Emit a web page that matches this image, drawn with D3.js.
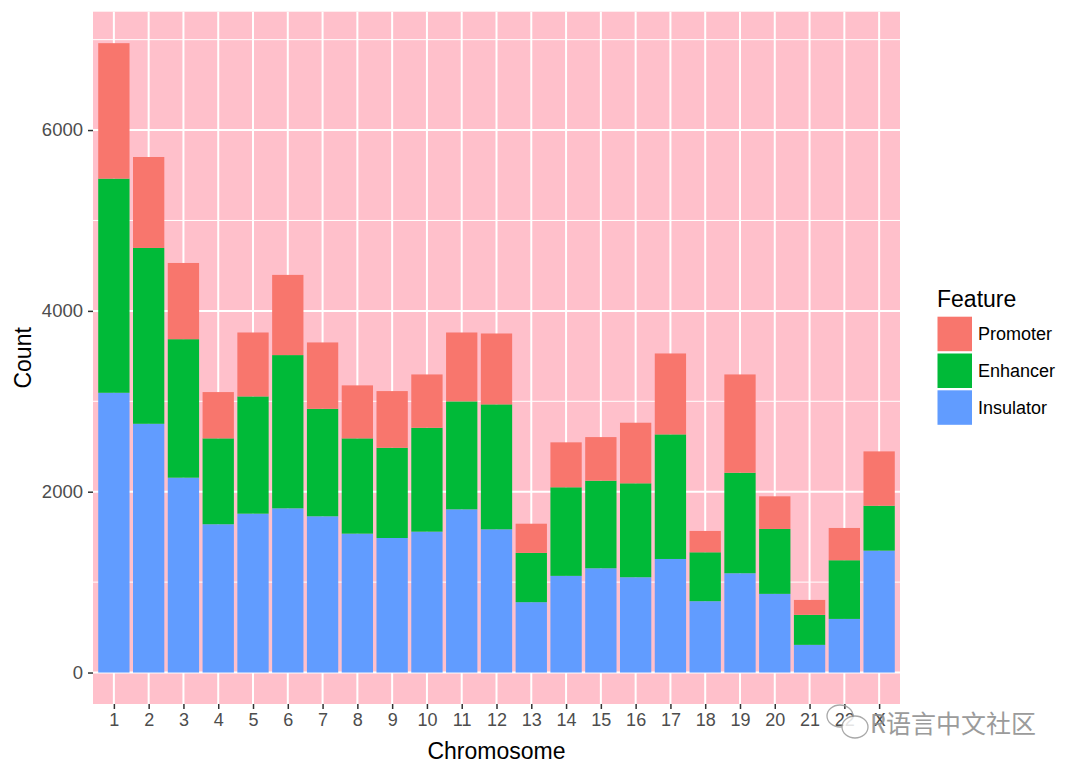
<!DOCTYPE html>
<html>
<head>
<meta charset="utf-8">
<script src="https://cdn.jsdelivr.net/npm/d3@7"></script>
<style>
  html, body { margin: 0; padding: 0; background: #fff; }
  svg { display: block; font-family: "Liberation Sans", Arial, sans-serif; }
</style>
</head>
<body>
<svg id="chart" width="1080" height="771"></svg>
<script>
const chromosomes = ["1","2","3","4","5","6","7","8","9","10","11","12","13","14","15","16","17","18","19","20","21","22","X"];
const insulator = [3094,2751,2155,1640,1757,1816,1728,1536,1488,1558,1805,1584,778,1069,1153,1054,1256,789,1098,870,306,593,1348];
const enhancer  = [2369,1945,1532,950,1297,1695,1189,1054,998,1149,1194,1382,545,980,969,1039,1378,541,1112,718,332,649,497];
const promoter  = [1498,1006,843,512,707,887,734,586,627,590,762,784,323,497,482,670,895,236,1087,361,165,357,601];
const features = ["Promoter","Enhancer","Insulator"];
const featureColors = ["#F8766D","#00BA38","#619CFF"];
const yTicks = [0,2000,4000,6000];
const yMinorTicks = [1000,3000,5000,7000];

const rows = chromosomes.map((c, i) => ({
  chrom: c, Insulator: insulator[i], Enhancer: enhancer[i], Promoter: promoter[i]
}));
const stackKeys = ["Insulator","Enhancer","Promoter"];
const stacked = d3.stack().keys(stackKeys)(rows);
const color = d3.scaleOrdinal().domain(features).range(featureColors);

const svg = d3.select("#chart");
const panel = { left: 93, top: 11.7, right: 900, bottom: 704 };

const maxTotal = d3.max(rows, d => d.Insulator + d.Enhancer + d.Promoter);
const pad = maxTotal * 0.05;
const y = d3.scaleLinear().domain([-pad, maxTotal + pad]).range([panel.bottom, panel.top]);

const n = chromosomes.length;
const step = (panel.right - panel.left) / (n - 1 + 1.2);
const x = d3.scalePoint().domain(chromosomes)
  .range([panel.left + 0.6 * step, panel.right - 0.6 * step]);
const barW = step * 0.9;

svg.append("rect")
  .attr("x", panel.left).attr("y", panel.top)
  .attr("width", panel.right - panel.left).attr("height", panel.bottom - panel.top)
  .attr("fill", "#FFC0CB");

const grid = svg.append("g");
grid.selectAll(".minor").data(yMinorTicks.filter(v => y(v) >= panel.top)).join("line")
  .attr("x1", panel.left).attr("x2", panel.right)
  .attr("y1", d => y(d)).attr("y2", d => y(d))
  .attr("stroke", "#fff").attr("stroke-width", 1);
grid.selectAll(".major").data(yTicks).join("line")
  .attr("x1", panel.left).attr("x2", panel.right)
  .attr("y1", d => y(d)).attr("y2", d => y(d))
  .attr("stroke", "#fff").attr("stroke-width", 2);
grid.selectAll(".vmajor").data(chromosomes).join("line")
  .attr("x1", d => x(d)).attr("x2", d => x(d))
  .attr("y1", panel.top).attr("y2", panel.bottom)
  .attr("stroke", "#fff").attr("stroke-width", 2);

svg.append("g").selectAll("g").data(stacked).join("g")
  .attr("fill", d => color(d.key))
  .selectAll("rect").data(d => d).join("rect")
  .attr("x", d => x(d.data.chrom) - barW / 2)
  .attr("width", barW)
  .attr("y", d => y(d[1]))
  .attr("height", d => y(d[0]) - y(d[1]));

const yAxis = svg.append("g")
  .attr("transform", `translate(${panel.left},0)`)
  .call(d3.axisLeft(y).tickValues(yTicks).tickSize(5).tickPadding(5).tickFormat(d3.format("d")));
yAxis.select(".domain").remove();
yAxis.selectAll(".tick line").attr("stroke", "#333").attr("stroke-width", 1.5);
yAxis.selectAll(".tick text").attr("fill", "#4D4D4D").style("font-size", "18.5px");

const xAxis = svg.append("g")
  .attr("transform", `translate(0,${panel.bottom})`)
  .call(d3.axisBottom(x).tickSize(5).tickPadding(4));
xAxis.select(".domain").remove();
xAxis.selectAll(".tick line").attr("stroke", "#333").attr("stroke-width", 1.5);
xAxis.selectAll(".tick text").attr("fill", "#4D4D4D").style("font-size", "18px");

svg.append("text")
  .attr("x", (panel.left + panel.right) / 2).attr("y", 759)
  .attr("text-anchor", "middle").attr("fill", "#000")
  .style("font-size", "23px").text("Chromosome");
svg.append("text")
  .attr("transform", `translate(31,${(panel.top + panel.bottom) / 2}) rotate(-90)`)
  .attr("text-anchor", "middle").attr("fill", "#000")
  .style("font-size", "23px").text("Count");

const legend = svg.append("g").attr("transform", "translate(937,0)");
legend.append("text").attr("x", 0).attr("y", 307)
  .attr("fill", "#000").style("font-size", "23px").text("Feature");
const keyH = 34.5, keyTop = 316.7;
features.forEach((f, i) => {
  legend.append("rect")
    .attr("x", 0.5).attr("y", keyTop + i * (keyH + 2.3))
    .attr("width", 34.5).attr("height", keyH)
    .attr("fill", color(f));
  legend.append("text")
    .attr("x", 41).attr("y", keyTop + i * (keyH + 2.3) + keyH / 2)
    .attr("dy", "0.35em").attr("fill", "#000")
    .style("font-size", "18px").text(f);
});

// watermark (WeChat-style icon + text)
const wm = svg.append("g").attr("fill", "none").attr("stroke", "#9a9a9a").attr("stroke-width", 1.3).attr("opacity", 0.85);
wm.append("ellipse").attr("cx", 840).attr("cy", 716).attr("rx", 13).attr("ry", 11);
wm.append("ellipse").attr("cx", 855).attr("cy", 727).attr("rx", 13).attr("ry", 11).attr("fill", "#fff");
svg.append("text").attr("x", 870).attr("y", 733)
  .attr("fill", "#8a8a8a").attr("opacity", 0.85)
  .style("font-family", "'Noto Sans CJK SC', sans-serif")
  .style("font-size", "25px").text("R语言中文社区");
</script>
</body>
</html>
